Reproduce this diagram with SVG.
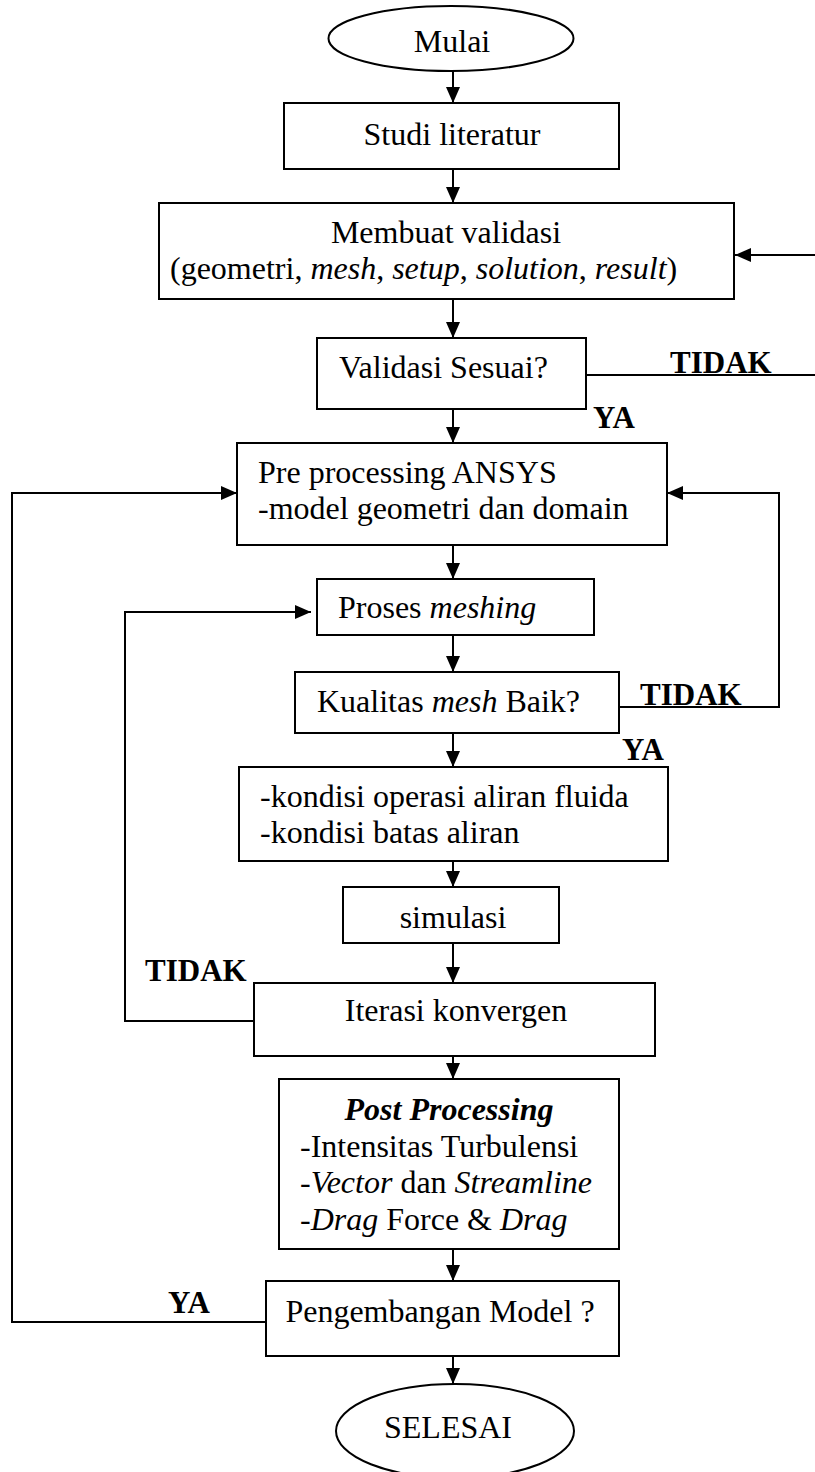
<svg xmlns="http://www.w3.org/2000/svg" width="815" height="1472" viewBox="0 0 815 1472">
<style>
  .box { fill: #fff; stroke: #000; stroke-width: 2; }
  .ln { fill: none; stroke: #000; stroke-width: 2; }
  .arr { fill: none; stroke: #000; stroke-width: 2; marker-end: url(#ah); }
  text { font-family: "Liberation Serif", "Times New Roman", serif; font-size: 32px; fill: #000; }
  .c { text-anchor: middle; }
  .lbl { font-weight: bold; font-size: 31px; }
  .i { font-style: italic; }
</style>
<defs>
  <marker id="ah" markerWidth="16" markerHeight="14" refX="16" refY="7" orient="auto" markerUnits="userSpaceOnUse">
    <path d="M0,0 L16,7 L0,14 Z" fill="#000"/>
  </marker>
</defs>
<rect x="0" y="0" width="815" height="1472" fill="#fff"/>

<g id="connectors">
  <line class="arr" x1="453" y1="71" x2="453" y2="103"/>
  <line class="arr" x1="453" y1="169" x2="453" y2="203"/>
  <line class="arr" x1="815" y1="255" x2="735" y2="255"/>
  <line class="arr" x1="453" y1="299" x2="453" y2="338"/>
  <line class="ln" x1="586" y1="375" x2="815" y2="375"/>
  <line class="arr" x1="453" y1="409" x2="453" y2="443"/>
  <polyline class="arr" points="266,1322 12,1322 12,493 237,493"/>
  <polyline class="arr" points="619,707 779,707 779,493 667,493"/>
  <line class="arr" x1="453" y1="545" x2="453" y2="579"/>
  <polyline class="arr" points="254,1021 125,1021 125,612 311,612"/>
  <line class="arr" x1="453" y1="635" x2="453" y2="672"/>
  <line class="arr" x1="453" y1="733" x2="453" y2="767"/>
  <line class="arr" x1="453" y1="861" x2="453" y2="887"/>
  <line class="arr" x1="453" y1="943" x2="453" y2="983"/>
  <line class="arr" x1="453" y1="1056" x2="453" y2="1079"/>
  <line class="arr" x1="453" y1="1249" x2="453" y2="1281"/>
  <line class="arr" x1="453" y1="1356" x2="453" y2="1384"/>
  <text class="lbl" x="670" y="373">TIDAK</text>
  <text class="lbl" x="593" y="428">YA</text>
  <text class="lbl" x="640" y="705">TIDAK</text>
  <text class="lbl" x="622" y="760">YA</text>
  <text class="lbl" x="145" y="981">TIDAK</text>
  <text class="lbl" x="168" y="1313">YA</text>
</g>

<g id="mulai">
  <ellipse class="box" cx="451" cy="38.5" rx="122.5" ry="32.5"/>
  <text class="c" x="452" y="52">Mulai</text>
</g>

<g id="studi">
  <rect class="box" x="284" y="103" width="335" height="66"/>
  <text class="c" x="452" y="145">Studi literatur</text>
</g>

<g id="membuat">
  <rect class="box" x="159" y="203" width="575" height="96"/>
  <text class="c" x="446" y="243">Membuat validasi</text>
  <text x="170" y="279">(geometri, <tspan class="i">mesh</tspan>, <tspan class="i">setup</tspan>, <tspan class="i">solution</tspan>, <tspan class="i">result</tspan>)</text>
</g>

<g id="validasi">
  <rect class="box" x="317" y="338" width="269" height="71"/>
  <text x="339" y="378">Validasi Sesuai?</text>
</g>

<g id="preprocessing">
  <rect class="box" x="237" y="443" width="430" height="102"/>
  <text x="258" y="483">Pre processing ANSYS</text>
  <text x="258" y="519">-model geometri dan domain</text>
</g>

<g id="meshing">
  <rect class="box" x="317" y="579" width="277" height="56"/>
  <text x="338" y="618">Proses <tspan class="i">meshing</tspan></text>
</g>

<g id="kualitas">
  <rect class="box" x="295" y="672" width="324" height="61"/>
  <text x="317" y="712">Kualitas <tspan class="i">mesh</tspan> Baik?</text>
</g>

<g id="kondisi">
  <rect class="box" x="239" y="767" width="429" height="94"/>
  <text x="260" y="807">-kondisi operasi aliran fluida</text>
  <text x="260" y="843">-kondisi batas aliran</text>
</g>

<g id="simulasi">
  <rect class="box" x="343" y="887" width="216" height="56"/>
  <text class="c" x="453" y="928">simulasi</text>
</g>

<g id="iterasi">
  <rect class="box" x="254" y="983" width="401" height="73"/>
  <text class="c" x="456" y="1021">Iterasi konvergen</text>
</g>

<g id="postprocessing">
  <rect class="box" x="279" y="1079" width="340" height="170"/>
  <text class="c" x="449" y="1120" font-weight="bold" font-style="italic">Post Processing</text>
  <text x="300" y="1157">-Intensitas Turbulensi</text>
  <text x="300" y="1193">-<tspan class="i">Vector</tspan> dan <tspan class="i">Streamline</tspan></text>
  <text x="300" y="1230">-<tspan class="i">Drag</tspan> Force &amp; <tspan class="i">Drag</tspan></text>
</g>

<g id="pengembangan">
  <rect class="box" x="266" y="1281" width="353" height="75"/>
  <text class="c" x="440" y="1322">Pengembangan Model ?</text>
</g>

<g id="selesai">
  <ellipse class="box" cx="455" cy="1431" rx="119" ry="47"/>
  <text class="c" x="448" y="1438">SELESAI</text>
</g>
</svg>
